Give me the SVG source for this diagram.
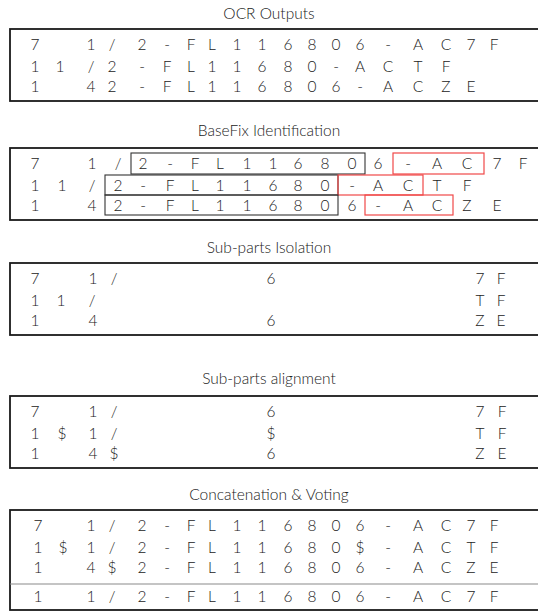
<svg xmlns="http://www.w3.org/2000/svg" width="538" height="614" viewBox="0 0 538 614">
<style>
  .bg { fill: #ffffff; }
  .frame { fill: none; stroke: #1a1a1a; stroke-width: 1.8; }
  .title { font-family: Lato, "Liberation Sans", sans-serif; font-weight: 300; font-size: 15.5px; fill: #222; text-anchor: middle; }
  .row { font-family: Lato, "Liberation Sans", sans-serif; font-weight: 300; font-size: 15.5px; fill: #222; text-anchor: middle; }
  .base { fill: none; stroke: #333; stroke-width: 1.1; }
  .fix { fill: none; stroke: #f04848; stroke-width: 1.2; }
  .sep { fill: none; stroke: #8a8a8a; stroke-width: 1.2; }
</style>
<rect class="bg" x="0" y="0" width="538" height="614"/>

<g id="ocr-outputs">
  <text class="title" x="269" y="18.5">OCR Outputs</text>
  <rect class="frame" x="10" y="29" width="540" height="72"/>
  <text class="row" x="35 91 112 142 167 191 212 237 262 288 312 336 360 388 418 446 471 494" y="50">71/2-FL116806-AC7F</text>
  <text class="row" x="35 60 91 112 142 167 191 212 237 262 288 312 336 360 388 418 446" y="72">11/2-FL11680-ACTF</text>
  <text class="row" x="35 91 112 142 167 191 212 237 262 288 312 336 360 388 418 446 471" y="92">142-FL116806-ACZE</text>
</g>

<g id="basefix-identification">
  <text class="title" x="269" y="135.5">BaseFix Identification</text>
  <rect class="frame" x="10" y="148" width="540" height="72"/>
  <rect class="base" x="131" y="153" width="234" height="21"/>
  <rect class="fix" x="393" y="153" width="91" height="21"/>
  <rect class="base" x="105" y="175" width="233" height="20"/>
  <rect class="fix" x="338" y="175" width="85" height="20"/>
  <rect class="base" x="105" y="195" width="233" height="20"/>
  <rect class="fix" x="365" y="195" width="88" height="20"/>
  <text class="row" x="35 92 118 143 170 195 220 247 273 298 325 352 378 408 437 467 497 523" y="169">71/2-FL116806-AC7F</text>
  <text class="row" x="35 62 92 118 143 170 195 220 247 273 298 325 352 378 408 437 467" y="191">11/2-FL11680-ACTF</text>
  <text class="row" x="35 92 118 143 170 195 220 247 273 298 325 352 378 408 437 467 497" y="211">142-FL116806-ACZE</text>
</g>

<g id="subparts-isolation">
  <text class="title" x="269" y="252.5">Sub-parts Isolation</text>
  <rect class="frame" x="10" y="263" width="540" height="72"/>
  <text class="row" x="35 93 114 271 480 501" y="284">71/67F</text>
  <text class="row" x="35 61 92 480 501" y="306">11/TF</text>
  <text class="row" x="35 93 271 480 501" y="326">146ZE</text>
</g>

<g id="subparts-alignment">
  <text class="title" x="269" y="383.5">Sub-parts alignment</text>
  <rect class="frame" x="10" y="396" width="540" height="72"/>
  <text class="row" x="35 93 114 271 480 502" y="417">71/67F</text>
  <text class="row" x="35 62 93 114 271 480 502" y="439">1$1/$TF</text>
  <text class="row" x="35 93 114 271 480 502" y="459">14$6ZE</text>
</g>

<g id="concatenation-voting">
  <text class="title" x="269" y="499.5">Concatenation &amp; Voting</text>
  <rect class="frame" x="10" y="510" width="540" height="100"/>
  <text class="row" x="38 91 112 142 167 191 212 237 262 288 312 336 360 388 418 446 471 494" y="531">71/2-FL116806-AC7F</text>
  <text class="row" x="38 63 91 112 142 167 191 212 237 262 288 312 336 360 388 418 446 471 494" y="553">1$1/2-FL11680$-ACTF</text>
  <text class="row" x="38 91 112 142 167 191 212 237 262 288 312 336 360 388 418 446 471 494" y="573">14$2-FL116806-ACZE</text>
  <line class="sep" x1="10" y1="584" x2="538" y2="584"/>
  <text class="row" x="38 91 112 142 167 191 212 237 262 288 312 336 360 388 418 446 471 494" y="602">11/2-FL116806-AC7F</text>
</g>

<g id="connectors"></g>
</svg>
